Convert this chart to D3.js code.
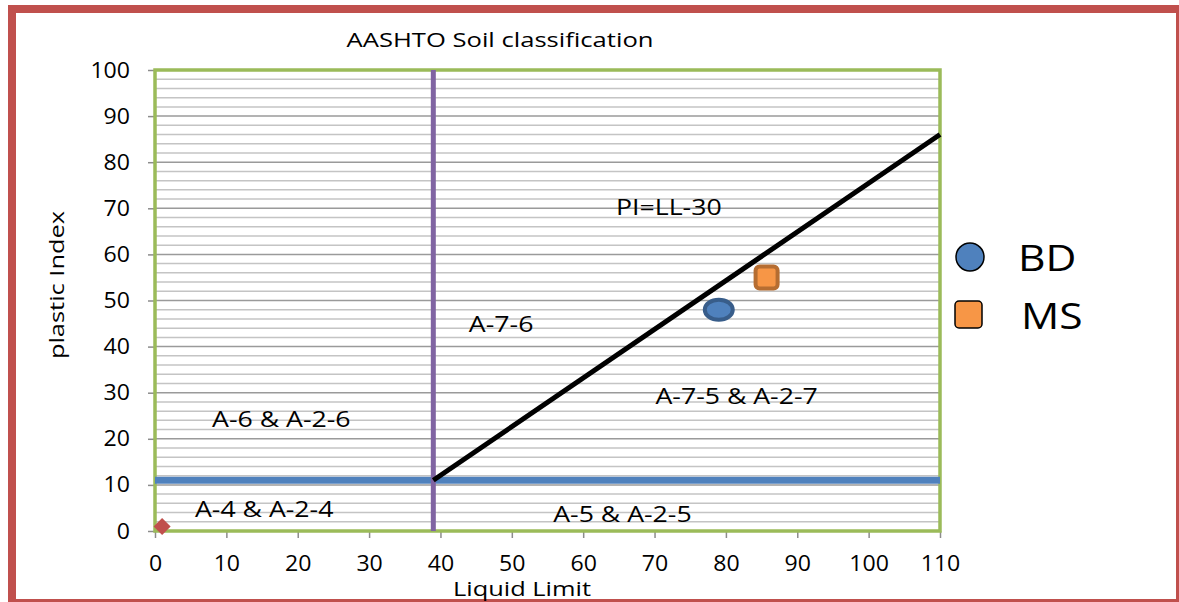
<!DOCTYPE html>
<html>
<head>
<meta charset="utf-8">
<script src="https://cdn.jsdelivr.net/npm/d3@7"></script>
<style>
  body { margin: 0; background: #fff; }
  svg text { font-family: "Open Sans", "Liberation Sans", sans-serif; fill: #000; }
</style>
</head>
<body>
<div id="chart"></div>
<script>
// data
var xTicks = [0, 10, 20, 30, 40, 50, 60, 70, 80, 90, 100, 110];
var yTicks = [0, 10, 20, 30, 40, 50, 60, 70, 80, 90, 100];
var purpleLine = [[39, 0], [39, 100]];       // LL boundary
var blueLine = [[0, 11], [110, 11]];          // PI boundary
var piLine = [[39, 11], [110, 86]];           // PI = LL-30
var bdPoint = [[79, 48]];
var msPoint = [[85.7, 55]];
var originPoint = [[1, 1]];
var zoneLabels = [
  {text: "PI=LL-30", x: 72, y: 70},
  {text: "A-7-6", x: 48.5, y: 44.7},
  {text: "A-7-5 & A-2-7", x: 81.5, y: 29},
  {text: "A-6 & A-2-6", x: 17.7, y: 24},
  {text: "A-4 & A-2-4", x: 15.3, y: 4.5},
  {text: "A-5 & A-2-5", x: 65.5, y: 3.5}
];
var legendItems = [
  {name: "BD", shape: "circle", color: "#4F81BD"},
  {name: "MS", shape: "square", color: "#F79646"}
];

var W = 1179, H = 602;
var margin = {left: 155, right: 239, top: 70, bottom: 71};
// the source font is wider than Open Sans, so texts get stretched a bit
var stretch = 1.27;

var svg = d3.select('#chart').append('svg')
  .attr('width', W)
  .attr('height', H);

var x = d3.scaleLinear().domain([0, 110]).range([margin.left, W - margin.right]);
var y = d3.scaleLinear().domain([0, 100]).range([H - margin.bottom, margin.top]);

function wideText(g, tx, ty, size, str, anchor, sx) {
  return g.append('text')
    .attr('transform', 'translate(' + tx + ',' + ty + ') scale(' + (sx || stretch) + ',1)')
    .attr('text-anchor', anchor || 'middle')
    .style('font-size', size + 'px')
    .text(str);
}

// outer red frame
svg.append('rect')
  .attr('x', 12).attr('y', 9)
  .attr('width', 1168).attr('height', 594)
  .attr('fill', 'none')
  .attr('stroke', '#C0504D')
  .attr('stroke-width', 8);

// horizontal gridlines every 2, darker every 10
var grid = svg.append('g');
d3.range(2, 100, 2).forEach(function(v) {
  grid.append('line')
    .attr('x1', x(0)).attr('x2', x(110))
    .attr('y1', y(v)).attr('y2', y(v))
    .attr('stroke', v % 10 === 0 ? '#9A9A9A' : '#C4C4C4')
    .attr('stroke-width', 1.5);
});

// axes
var xAxis = d3.axisBottom(x).tickValues(xTicks).tickSize(7).tickPadding(17);
var yAxis = d3.axisLeft(y).tickValues(yTicks).tickSize(7).tickPadding(0);

var gx = svg.append('g')
  .attr('transform', 'translate(0,' + y(0) + ')')
  .call(xAxis);
var gy = svg.append('g')
  .attr('transform', 'translate(' + x(0) + ',0)')
  .call(yAxis);
[gx, gy].forEach(function(g) {
  g.select('.domain').remove();
  g.selectAll('line').attr('stroke', '#8C8C8C').attr('stroke-width', 1.5);
  g.selectAll('text').style('font-size', '22px').style('font-family', '"Open Sans", sans-serif');
});
gx.selectAll('.tick text').attr('transform', 'scale(1.05,1)');
gy.selectAll('.tick text').attr('x', 0).attr('transform', 'translate(-25,0) scale(1.05,1)');

// green plot border
svg.append('rect')
  .attr('x', x(0)).attr('y', y(100))
  .attr('width', x(110) - x(0)).attr('height', y(0) - y(100))
  .attr('fill', 'none')
  .attr('stroke', '#9BBB59')
  .attr('stroke-width', 3.5);

var line = d3.line().x(function(d) { return x(d[0]); }).y(function(d) { return y(d[1]); });

svg.append('path').attr('d', line(blueLine))
  .attr('stroke', '#4F81BD').attr('stroke-width', 7).attr('fill', 'none');
svg.append('path').attr('d', line(purpleLine))
  .attr('stroke', '#8064A2').attr('stroke-width', 5).attr('fill', 'none');
svg.append('path').attr('d', line(piLine))
  .attr('stroke', '#000').attr('stroke-width', 5).attr('fill', 'none');

// data markers
svg.selectAll('.bd').data(bdPoint).enter().append('ellipse')
  .attr('cx', function(d) { return x(d[0]); })
  .attr('cy', function(d) { return y(d[1]); })
  .attr('rx', 14).attr('ry', 10)
  .attr('fill', '#4F81BD').attr('stroke', '#385D8A').attr('stroke-width', 4);

svg.selectAll('.ms').data(msPoint).enter().append('rect')
  .attr('x', function(d) { return x(d[0]) - 11; })
  .attr('y', function(d) { return y(d[1]) - 11; })
  .attr('width', 22).attr('height', 22).attr('rx', 4)
  .attr('fill', '#F79646').attr('stroke', '#B66D31').attr('stroke-width', 4);

svg.selectAll('.orig').data(originPoint).enter().append('rect')
  .attr('x', -6).attr('y', -6).attr('width', 12).attr('height', 12)
  .attr('fill', '#C0504D')
  .attr('transform', function(d) { return 'translate(' + x(d[0]) + ',' + y(d[1]) + ') rotate(45)'; });

// zone labels
zoneLabels.forEach(function(d) {
  wideText(svg, x(d.x), y(d.y) + 7, 21, d.text);
});

// title
wideText(svg, 500, 47, 20, 'AASHTO Soil classification', 'middle', 1.28);

// axis titles
svg.append('text')
  .attr('transform', 'translate(64,285) rotate(-90) scale(1.27,1)')
  .attr('text-anchor', 'middle')
  .style('font-size', '20px')
  .text('plastic Index');

wideText(svg, 522, 596, 20, 'Liquid Limit', 'middle', 1.27);

// legend
var leg = svg.append('g');
legendItems.forEach(function(d, i) {
  var cy = 257 + i * 58;
  if (d.shape === 'circle') {
    leg.append('circle').attr('cx', 970).attr('cy', cy).attr('r', 14)
      .attr('fill', d.color).attr('stroke', '#000').attr('stroke-width', 1.5);
  } else {
    leg.append('rect').attr('x', 955).attr('y', cy - 14).attr('width', 27).attr('height', 27).attr('rx', 4)
      .attr('fill', d.color).attr('stroke', '#000').attr('stroke-width', 1.5);
  }
  wideText(leg, i === 0 ? 1018 : 1021, cy + 14, 37, d.name, 'start', 1.15);
});
</script>
</body>
</html>
